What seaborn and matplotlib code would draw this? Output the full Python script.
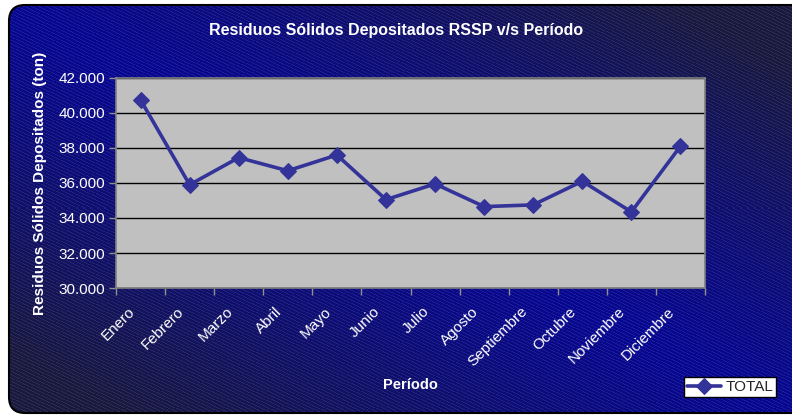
import matplotlib
matplotlib.use("Agg")
import matplotlib.pyplot as plt
import matplotlib.transforms as mtransforms
from matplotlib.patches import FancyBboxPatch
import seaborn as sns
import pandas as pd
import numpy as np

# Data (ton)
meses = ['Enero', 'Febrero', 'Marzo', 'Abril', 'Mayo', 'Junio', 'Julio',
         'Agosto', 'Septiembre', 'Octubre', 'Noviembre', 'Diciembre']
total = [40750, 35900, 37450, 36700, 37600, 35050, 35950,
         34650, 34750, 36100, 34350, 38100]
y_ticks = [30000, 32000, 34000, 36000, 38000, 40000, 42000]
y_labels = ['30.000', '32.000', '34.000', '36.000', '38.000', '40.000', '42.000']

df = pd.DataFrame({'mes': meses, 'pos': np.arange(len(meses)), 'TOTAL': total})

sns.set_theme(style="white")
plt.rcParams['font.family'] = ['Liberation Sans', 'DejaVu Sans']

W, H = 792, 415
fig = plt.figure(figsize=(W / 100, H / 100), dpi=100)
fig.patch.set_facecolor('white')

# --- background: blue diagonal gradient with fine hatching ---
bg = fig.add_axes([0, 0, 1, 1], zorder=-5)
bg.set_xlim(0, W)
bg.set_ylim(H, 0)
bg.axis('off')
yy, xx = np.mgrid[0:H, 0:W]
d = np.abs((xx / W) - (yy / H))          # distance from the TL-BR diagonal
t = np.clip(d / 0.85, 0, 1) ** 1.2
c_mid = np.array([0.03, 0.03, 0.56])
c_edge = np.array([0.10, 0.10, 0.24])
img = c_mid[None, None, :] * (1 - t[..., None]) + c_edge[None, None, :] * t[..., None]
stripe = (np.sin((xx * 0.42 - yy * 0.9) * 2 * np.pi / 3.0) > 0.6).astype(float)
img = img + stripe[..., None] * 0.08
img = np.clip(img, 0, 1)
im = bg.imshow(img, extent=(0, W, H, 0), interpolation='nearest', aspect='auto')
frame = FancyBboxPatch((9, 5), W + 20, H - 7,
                       boxstyle="round,pad=0,rounding_size=16",
                       transform=bg.transData, facecolor='none',
                       edgecolor='black', linewidth=1.5)
bg.add_patch(frame)
im.set_clip_path(frame)

# --- main plot ---
ax = fig.add_axes([116 / W, 1 - 288 / H, (705 - 116) / W, (288 - 78) / H])
ax.set_facecolor('#C0C0C0')
sns.lineplot(data=df, x='pos', y='TOTAL', ax=ax, color='#333399',
             linewidth=2.6, marker='D', markersize=8,
             markeredgecolor='#333399', label='TOTAL', legend=False)

ax.set_xlim(-0.5, len(meses) - 0.5)
ax.set_ylim(30000, 42000)
ax.set_yticks(y_ticks)
ax.set_yticklabels(y_labels)
ax.yaxis.grid(True, color='black', linewidth=1.0)
ax.set_axisbelow(True)

ax.set_xticks(np.arange(len(meses)))
ax.set_xticklabels(meses, rotation=45, ha='right', rotation_mode='anchor')
ax.set_xticks(np.arange(-0.5, len(meses)), minor=True)
ax.tick_params(axis='x', which='major', length=0, pad=9, colors='white', labelsize=11)
ax.tick_params(axis='x', which='minor', length=5, width=1, color='#909090', bottom=True)
ax.tick_params(axis='y', length=5, width=1, color='#909090', colors='white',
               labelsize=11, left=True, pad=3)
shift = mtransforms.ScaledTranslation(-13 / 100, -4 / 100, fig.dpi_scale_trans)
for lbl in ax.get_xticklabels():
    lbl.set_transform(lbl.get_transform() + shift)
for lbl in ax.get_xticklabels() + ax.get_yticklabels():
    lbl.set_color('white')
for s in ax.spines.values():
    s.set_color('#808080')
    s.set_linewidth(1.2)

ax.set_xlabel('')
ax.set_ylabel('')
fig.text(410 / W, 1 - 385 / H, 'Período', color='white', fontsize=10.5,
         fontweight='bold', ha='center', va='center')
fig.text(40 / W, 1 - 183 / H, 'Residuos Sólidos Depositados (ton)', color='white',
         fontsize=11, fontweight='bold', ha='center', va='center', rotation=90)
fig.text(396 / W, 1 - 31 / H, 'Residuos Sólidos Depositados RSSP v/s Período',
         color='white', fontsize=11.5, fontweight='bold', ha='center', va='center')

leg = ax.legend(loc='center', bbox_to_anchor=(730 / W, 1 - 387 / H),
                bbox_transform=fig.transFigure, frameon=True, fancybox=False,
                fontsize=11, handlelength=2.2, handletextpad=0.3,
                borderpad=0.2, borderaxespad=0)
leg.get_frame().set_edgecolor('black')
leg.get_frame().set_facecolor('white')
leg.get_frame().set_linewidth(1.0)
leg.get_frame().set_alpha(1)

fig.savefig('out.png', dpi=100)
